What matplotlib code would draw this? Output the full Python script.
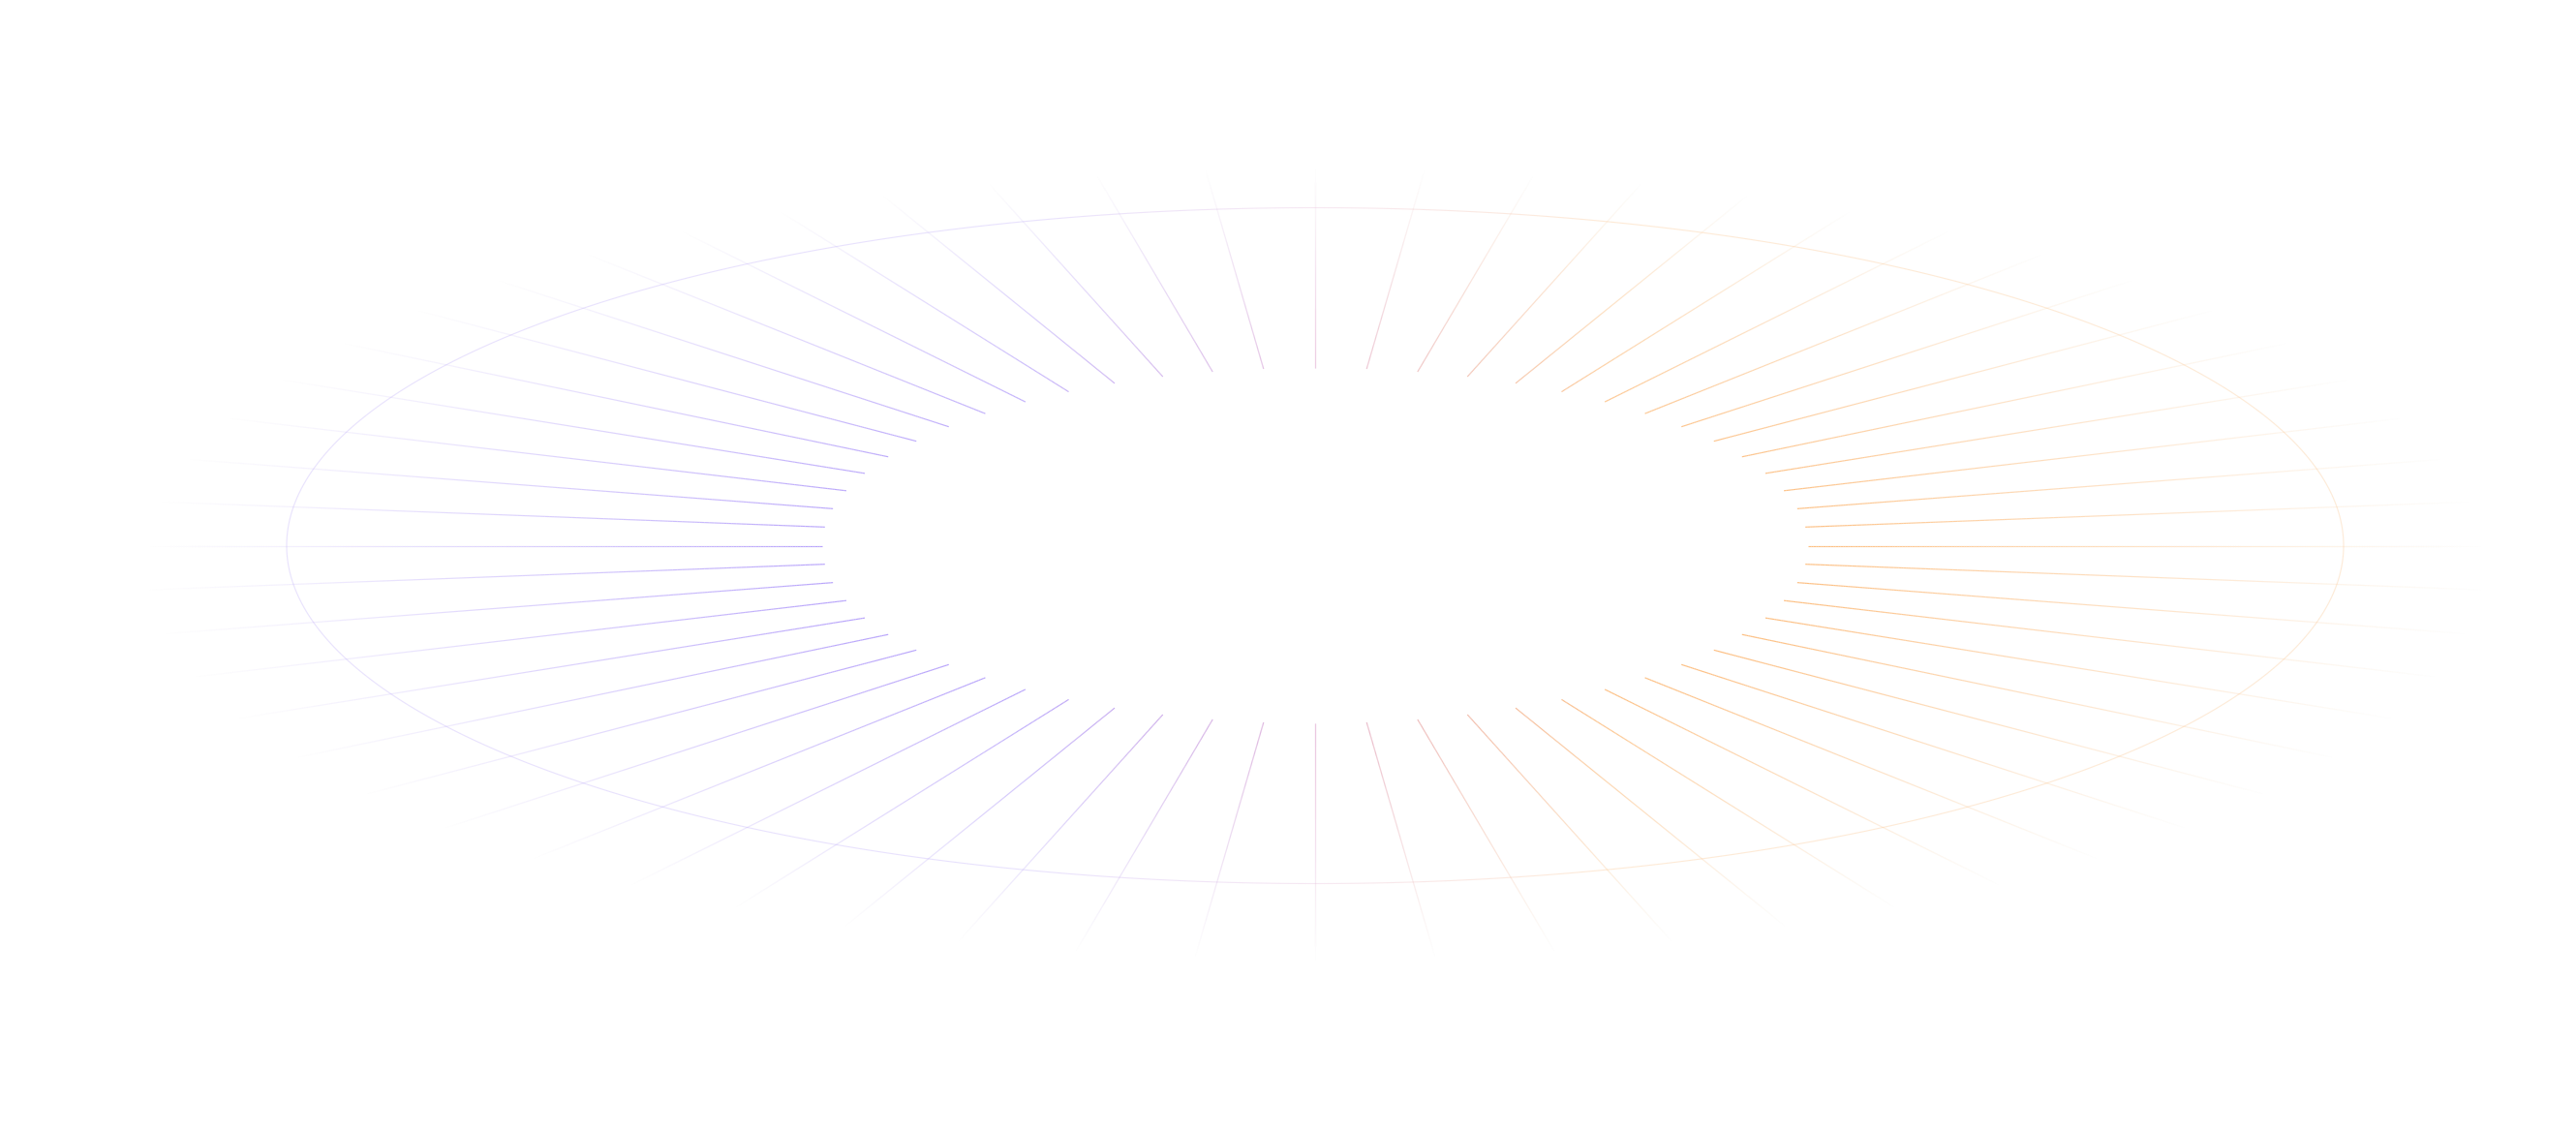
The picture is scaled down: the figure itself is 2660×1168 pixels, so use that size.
import numpy as np
import matplotlib
matplotlib.use("Agg")
import matplotlib.pyplot as plt
from matplotlib.collections import LineCollection
from matplotlib.colors import to_rgb

# ---- data (pixel space of a 2660 x 1168 canvas) ----
canvas_size = [2660, 1168]
center_xy = [1358.0, 563.5]
inner_axes = [509.0, 183.5]          # ellipse where the rays start
ray_angles_deg = list(range(0, 360, 6))   # 60 rays, every 6 degrees (parametric)
outline_axes = [1062.0, 349.0]       # thin decorative ellipse
fade_center = [1358.0, 582.5]        # elliptical fade mask
fade_axes = [1210.0, 410.0]
fade_start = 0.42                    # mask fully opaque inside this radius
grad_offsets = [-300.0, 0.0, 300.0]  # horizontal colour gradient stops (rel. to centre)
grad_colors = ["#b49ffb", "#e4b3d6", "#fdbb7a"]
ray_alpha = 0.95
outline_alpha = 0.3
ray_width = 0.85
outline_width = 0.8

cx, cy = center_xy
stops_x = np.array(grad_offsets) + cx
stops_rgb = np.array([to_rgb(c) for c in grad_colors])


def colour_at(x):
    r = np.interp(x, stops_x, stops_rgb[:, 0])
    g = np.interp(x, stops_x, stops_rgb[:, 1])
    b = np.interp(x, stops_x, stops_rgb[:, 2])
    return np.stack([r, g, b], axis=-1)


def mask_at(x, y):
    r = np.sqrt(((x - fade_center[0]) / fade_axes[0]) ** 2 +
                ((y - fade_center[1]) / fade_axes[1]) ** 2)
    return np.clip((1.0 - r) / (1.0 - fade_start), 0.0, 1.0) ** 1.15


def faded_segments(xs, ys, base_alpha):
    segs = np.stack([np.column_stack([xs[:-1], ys[:-1]]),
                     np.column_stack([xs[1:], ys[1:]])], axis=1)
    xm = 0.5 * (xs[:-1] + xs[1:])
    ym = 0.5 * (ys[:-1] + ys[1:])
    rgb = colour_at(xm)
    a = mask_at(xm, ym) * base_alpha
    rgba = np.column_stack([rgb, a])
    keep = a > 0.003
    return segs[keep], rgba[keep]


W, H = canvas_size
fig = plt.figure(figsize=(W / 100, H / 100), dpi=100)
ax = fig.add_axes([0, 0, 1, 1])
ax.set_xlim(0, W)
ax.set_ylim(H, 0)
ax.axis("off")
fig.patch.set_facecolor("white")

all_segs, all_cols = [], []

# rays
for deg in ray_angles_deg:
    t = np.deg2rad(deg)
    dx = inner_axes[0] * np.cos(t)
    dy = -inner_axes[1] * np.sin(t)
    k = np.linspace(1.0, 3.0, 400)
    xs = cx + k * dx
    ys = cy + k * dy
    s, c = faded_segments(xs, ys, ray_alpha)
    all_segs.append(s)
    all_cols.append(c)

ax.add_collection(LineCollection(np.concatenate(all_segs),
                                 colors=np.concatenate(all_cols),
                                 linewidths=ray_width, capstyle="butt"))

# outline ellipse
s_par = np.linspace(0, 2 * np.pi, 1441)
ex = cx + outline_axes[0] * np.cos(s_par)
ey = cy + outline_axes[1] * np.sin(s_par)
seg_o = np.stack([np.column_stack([ex[:-1], ey[:-1]]),
                  np.column_stack([ex[1:], ey[1:]])], axis=1)
col_o = np.column_stack([colour_at(0.5 * (ex[:-1] + ex[1:])),
                         np.full(len(ex) - 1, outline_alpha)])
ax.add_collection(LineCollection(seg_o, colors=col_o,
                                 linewidths=outline_width, capstyle="butt"))

fig.savefig("out.png", dpi=100, facecolor="white")
